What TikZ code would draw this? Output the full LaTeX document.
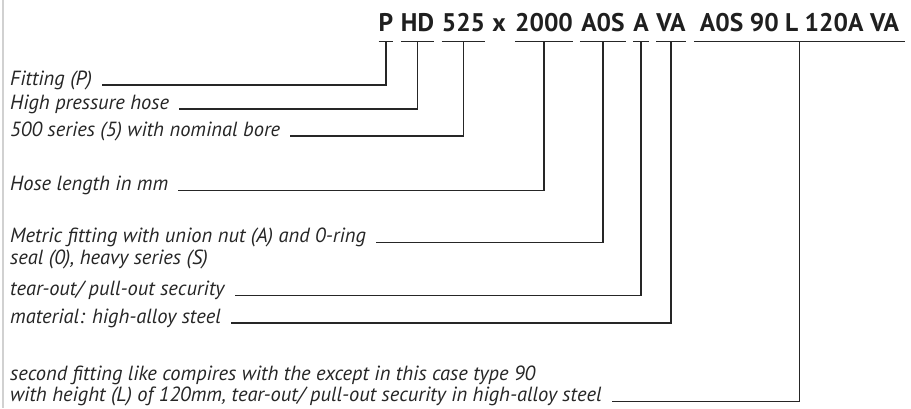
\documentclass[tikz,border=0pt]{standalone}
\usepackage{fontspec}
\setmainfont{PT Sans}
\begin{document}
\begin{tikzpicture}[x=1pt,y=-1pt,
  seg/.style={font=\fontsize{25.5}{28}\selectfont\bfseries, inner sep=0pt, anchor=base, text=black!88},
  lab/.style={font=\fontsize{20.5}{22}\selectfont\itshape, inner sep=0pt, anchor=base west, text=black!85},
  lead/.style={line width=1.4pt, draw=black!85, line join=miter},
  frame/.style={line width=2pt, draw=black!18}]
\useasboundingbox (0,0) rectangle (911,408);
\draw[frame] (3.3,0) -- (3.3,408);
% title segments
\node[seg, minimum width=14] (tP) at (386,31.5) {P};
\node[seg, minimum width=25] (tHD) at (417.5,31.5) {HD};
\node[seg, minimum width=39] (t525) at (463.5,31.5) {525};
\node[seg] (tx) at (499,31.5) {x};
\node[seg, minimum width=52] (t2000) at (544,31.5) {2000};
\node[seg, minimum width=46] (tAOS) at (603,31.5) {A0S};
\node[seg, minimum width=14] (tA) at (641,31.5) {A};
\node[seg, minimum width=25] (tVA) at (671,31.5) {VA};
\node[seg, minimum width=211] (tSec) at (799.5,31.5) {A0S 90 L 120A VA};
% labels
\node[lab] (lP) at (10,85) {Fitting (P)};
\node[lab] (lHD) at (10,109) {High pressure hose};
\node[lab] (l525) at (10,136) {500 series (5) with nominal bore};
\node[lab] (l2000) at (10,190.5) {Hose length in mm};
\node[lab] (lAOS) at (10,242.5) {Metric fitting with union nut (A) and 0-ring};
\node[lab] (lAOSb) at (10,264.5) {seal (0), heavy series (S)};
\node[lab] (lA) at (10,295.5) {tear-out/ pull-out security};
\node[lab] (lVA) at (10,323) {material: high-alloy steel};
\node[lab] (lSeca) at (10,380) {second fitting like compires with the except in this case type 90};
\node[lab] (lSec) at (10,401.5) {with height (L) of 120mm, tear-out/ pull-out security in high-alloy steel};
% leaders
\foreach \t/\l in {tP/lP, tHD/lHD, t525/l525, t2000/l2000, tAOS/lAOS, tA/lA, tVA/lVA, tSec/lSec}{
  \draw[lead] ([yshift=-10pt]\t.base west) -- ([yshift=-10pt]\t.base east);
  \draw[lead] ([yshift=-10pt]\t.base) |- ([xshift=10pt]\l.base east);
}
\end{tikzpicture}
\end{document}
